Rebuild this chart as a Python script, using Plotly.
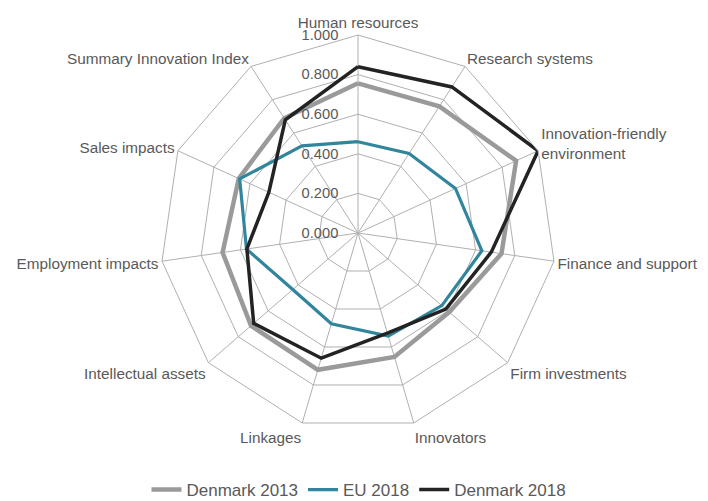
import plotly.graph_objects as go

categories = ["Human resources", "Research systems", "Innovation-friendly<br>environment",
              "Finance and support", "Firm investments", "Innovators", "Linkages",
              "Intellectual assets", "Employment impacts", "Sales impacts",
              "Summary Innovation Index"]

denmark_2013 = [0.756, 0.760, 0.878, 0.732, 0.610, 0.652, 0.720, 0.715, 0.691, 0.662, 0.689]
eu_2018 = [0.461, 0.477, 0.541, 0.632, 0.560, 0.543, 0.478, 0.436, 0.569, 0.657, 0.523]
denmark_2018 = [0.840, 0.877, 1.000, 0.680, 0.587, 0.527, 0.659, 0.697, 0.567, 0.495, 0.679]

radial_ticks = [0.0, 0.2, 0.4, 0.6, 0.8, 1.0]

series = [
    ("Denmark 2013", denmark_2013, "#9a9a9a", 4.5),
    ("EU 2018", eu_2018, "#31859c", 3.2),
    ("Denmark 2018", denmark_2018, "#232323", 3.5),
]

fig = go.Figure()
for name, vals, color, w in series:
    fig.add_trace(go.Scatterpolar(
        r=vals + vals[:1],
        theta=categories + categories[:1],
        mode="lines",
        name=name,
        line=dict(color=color, width=w),
    ))

# page has an 8px body margin; positions below are in figure coordinates
W, H = 708, 501
cx, cy, R = 350, 225, 198
fig.update_layout(
    width=W, height=H,
    margin=dict(l=0, r=0, t=0, b=0),
    paper_bgcolor="white",
    plot_bgcolor="white",
    font=dict(family="Liberation Sans, Arial, sans-serif", size=14.7, color="#595959"),
    polar=dict(
        domain=dict(x=[(cx - R) / W, (cx + R) / W], y=[(H - cy - R) / H, (H - cy + R) / H]),
        gridshape="linear",
        bgcolor="white",
        angularaxis=dict(
            rotation=90, direction="clockwise",
            showline=True, linecolor="#b0b0b0", linewidth=1,
            gridcolor="#b0b0b0", gridwidth=1,
            ticks="", tickfont=dict(size=15.3, color="#595959"),
        ),
        radialaxis=dict(
            range=[0, 1], tickvals=radial_ticks, tickformat=".3f",
            angle=90, tickangle=90, side="counterclockwise",
            showline=False, gridcolor="#b0b0b0", gridwidth=1,
            ticks="outside", ticklen=14, tickcolor="rgba(0,0,0,0)",
            tickfont=dict(size=14.7, color="#595959"),
        ),
    ),
    legend=dict(
        orientation="h", x=351 / W, xanchor="center", y=(H - 482) / H, yanchor="middle",
        font=dict(size=17, color="#595959"),
        itemwidth=30,
    ),
)

fig.write_html("out.html")
